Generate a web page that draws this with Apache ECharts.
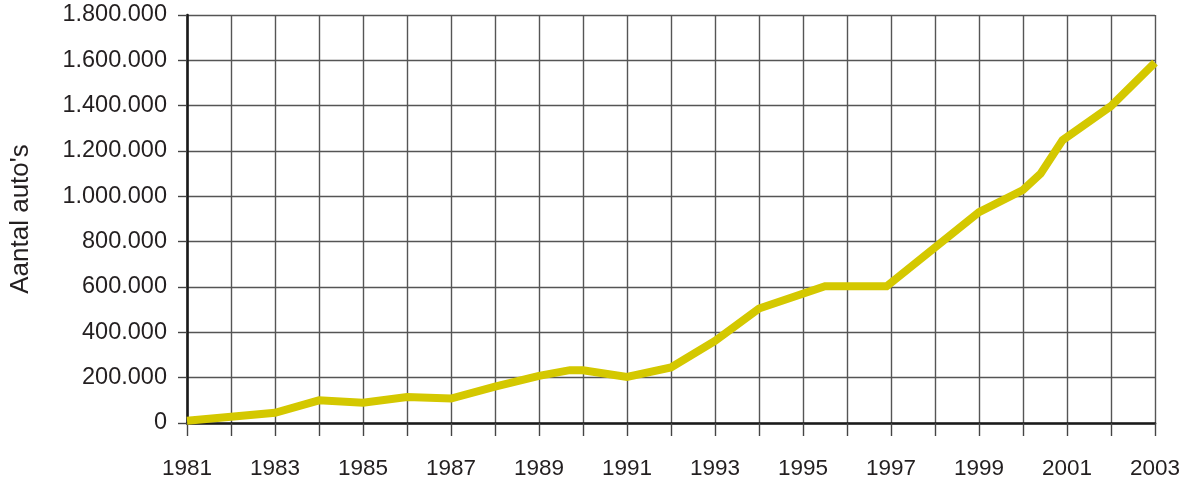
<!DOCTYPE html>
<html>
<head>
<meta charset="utf-8">
<title>Aantal auto's</title>
<script src="https://cdn.jsdelivr.net/npm/echarts@6/dist/echarts.min.js"></script>
<style>
  html, body { margin: 0; padding: 0; background: #fff; }
  #myChart { width: 1196px; height: 484px; }
</style>
</head>
<body>
<div id="myChart"></div>
<script>
// jaartallen (sommige punten liggen tussen twee jaren in)
var years = [1981, 1982, 1983, 1984, 1985, 1986, 1987, 1988, 1989, 1989.7, 1990, 1991, 1992, 1993, 1994, 1995.5, 1996.9, 1999, 2000, 2000.4, 2000.9, 2002, 2003];
// aantal auto's
var cars = [10000, 28000, 45000, 100000, 89000, 115000, 108000, 160000, 208000, 233000, 233000, 203000, 245000, 362000, 505000, 603000, 603000, 930000, 1028000, 1100000, 1248000, 1398000, 1590000];

var yearMin = 1981;
var yearMax = 2003;
var carMax = 1800000;
var carStep = 200000;

function formatNumber(v) {
    // punt als scheidingsteken voor duizendtallen
    return String(v).replace(/\B(?=(\d{3})+(?!\d))/g, '.');
}

var points = [];
for (var i = 0; i < years.length; i++) {
    points.push([years[i], cars[i]]);
}

var fontFamily = '"Liberation Sans", Arial, sans-serif';
var textColor = '#231f20';

var myChart = echarts.init(document.getElementById('myChart'));
var option = {
    animation: false,
    backgroundColor: '#fff',
    grid: {
        left: 187,
        right: 41,
        top: 15,
        bottom: 61,
        outerBoundsMode: 'none',
        containLabel: false
    },
    xAxis: {
        type: 'value',
        min: yearMin,
        max: yearMax,
        interval: 1,
        axisLine: { show: true, onZero: false, lineStyle: { color: '#1a1a1a', width: 2.6 } },
        axisTick: { show: true, length: 13, lineStyle: { color: '#444', width: 1.4 } },
        axisLabel: {
            margin: 34,
            fontSize: 22.5,
            fontFamily: fontFamily,
            color: textColor,
            formatter: function (v) {
                return (v - yearMin) % 2 === 0 ? String(v) : '';
            }
        },
        splitLine: { show: true, lineStyle: { color: '#555', width: 1.4 } }
    },
    yAxis: {
        type: 'value',
        min: 0,
        max: carMax,
        interval: carStep,
        name: "Aantal auto's",
        nameLocation: 'middle',
        nameGap: 153,
        nameTextStyle: { fontSize: 26, fontFamily: fontFamily, color: textColor },
        axisLine: { show: true, lineStyle: { color: '#1a1a1a', width: 2.6 } },
        axisTick: { show: true, length: 9, lineStyle: { color: '#444', width: 1.4 } },
        axisLabel: {
            margin: 20,
            fontSize: 23.5,
            fontFamily: fontFamily,
            color: textColor,
            formatter: function (v) { return formatNumber(v); }
        },
        splitLine: { show: true, lineStyle: { color: '#555', width: 1.4 } }
    },
    series: [{
        type: 'line',
        data: points,
        showSymbol: false,
        symbol: 'none',
        lineStyle: { color: '#d4c800', width: 8, join: 'miter', cap: 'butt' }
    }]
};
myChart.setOption(option);
</script>
</body>
</html>
